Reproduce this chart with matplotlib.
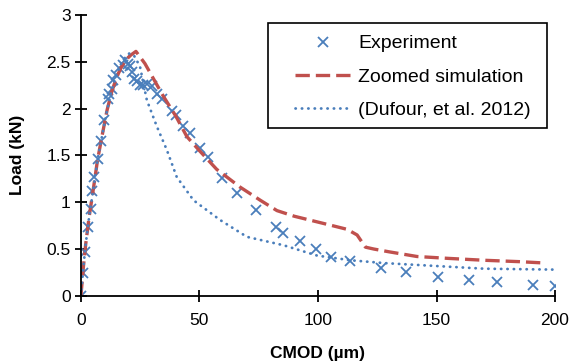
import numpy as np
import matplotlib
matplotlib.use("Agg")
import matplotlib.pyplot as plt
from matplotlib.patches import Rectangle

plt.rcParams['font.family'] = ['Liberation Sans', 'DejaVu Sans']

# experiment (CMOD in um, load in kN)
exp_x = [0, 0.7, 1.7, 3.1, 4.2, 4.8, 5.6, 7.0, 8.5, 9.7, 11.5, 12.0, 13.0, 13.7, 14.8,
         16.2, 17.6, 18.6, 19.7, 20.7, 21.4, 22.4, 23.8, 24.9, 26.3, 28.0, 29.9, 32.0,
         34.1, 38.6, 40.2, 43.0, 46.1, 50.3, 53.8, 59.5, 65.8, 74.0, 82.4, 85.1, 92.6,
         99.0, 105.5, 113.3, 126.4, 137.2, 150.8, 163.7, 175.4, 190.9, 199.9]
exp_y = [0, 0.24, 0.47, 0.74, 0.93, 1.12, 1.27, 1.46, 1.65, 1.88, 2.10, 2.15, 2.21, 2.31, 2.36,
         2.43, 2.47, 2.52, 2.48, 2.45, 2.39, 2.32, 2.29, 2.25, 2.25, 2.26, 2.24, 2.16,
         2.10, 1.97, 1.93, 1.81, 1.74, 1.58, 1.48, 1.26, 1.10, 0.92, 0.73, 0.67, 0.59,
         0.50, 0.42, 0.37, 0.30, 0.25, 0.20, 0.17, 0.15, 0.12, 0.11]

# zoomed simulation
sim_x = [0, 1, 2, 3.5, 5, 7, 9, 11, 13, 15, 17, 19, 21, 23.2, 27, 31, 34.8, 40, 44.7, 50,
         57.3, 62, 67.2, 75.7, 82.7, 90, 99.6, 106, 112.3, 116.5, 120, 123.5, 130, 141.8,
         155, 170, 185, 196]
sim_y = [0, 0.3, 0.55, 0.85, 1.1, 1.45, 1.72, 1.98, 2.18, 2.33, 2.44, 2.52, 2.57, 2.61, 2.48,
         2.3, 2.13, 1.92, 1.70, 1.55, 1.35, 1.26, 1.16, 1.02, 0.91, 0.85, 0.79, 0.75,
         0.71, 0.65, 0.52, 0.50, 0.47, 0.42, 0.40, 0.38, 0.365, 0.35]

# Dufour et al. 2012
duf_x = [0, 1, 2, 3.5, 5, 7, 9, 11, 13, 15, 17, 19, 20.5, 22.5, 24.9, 27.8, 32, 36.2,
         40.4, 47.5, 58.7, 70, 85.5, 99.6, 113.7, 127.8, 148.9, 170, 200]
duf_y = [0, 0.3, 0.55, 0.85, 1.1, 1.45, 1.72, 1.98, 2.2, 2.36, 2.48, 2.56, 2.59, 2.56, 2.45,
         2.09, 1.81, 1.56, 1.27, 1.02, 0.81, 0.63, 0.54, 0.43, 0.38, 0.35, 0.32, 0.29, 0.28]

fig = plt.figure(figsize=(5.74, 3.63), dpi=100)
ax = fig.add_axes([0.141, 0.185, 0.826, 0.774])

ax.plot(exp_x, exp_y, 'x', color='#4a7ebb', ms=7, mew=1.3, label='Experiment')
ax.plot(sim_x, sim_y, color='#c0504d', lw=2.4, linestyle=(0, (4.3, 1.8)),
        label='Zoomed simulation')
ax.plot(duf_x, duf_y, color='#4a7ebb', lw=2, linestyle=(0, (0.1, 2.2)),
        dash_capstyle='round', label='(Dufour, et al. 2012)')

ax.set_xlim(0, 200)
ax.set_ylim(0, 3)
ax.set_xticks([0, 50, 100, 150, 200])
ax.set_yticks([0, 0.5, 1, 1.5, 2, 2.5, 3])
ax.set_yticklabels(['0', '0.5', '1', '1.5', '2', '2.5', '3'])
for s in ['top', 'right']:
    ax.spines[s].set_visible(False)
for s in ['left', 'bottom']:
    ax.spines[s].set_linewidth(1.3)
ax.tick_params(direction='inout', length=8, width=1.3, labelsize=12.5)
ax.tick_params(axis='x', pad=8)
ax.set_xlabel('CMOD (µm)', fontsize=12.5, fontweight='bold', labelpad=13.5)
ax.set_ylabel('Load (kN)', fontsize=12.5, fontweight='bold', labelpad=15)

# legend box drawn separately (wider left margin like the original)
ax.add_patch(Rectangle((0.395, 0.598), 0.588, 0.374, transform=ax.transAxes,
                       fill=True, facecolor='white', edgecolor='black', lw=1.2,
                       zorder=4, clip_on=False))
leg = ax.legend(loc='upper left', bbox_to_anchor=(0.451, 0.929), fontsize=14,
                frameon=False, handlelength=2.95, labelspacing=0.8,
                borderpad=0.0, borderaxespad=0.0, handletextpad=0.3)
leg.set_zorder(5)

fig.savefig('out.png', dpi=100)
